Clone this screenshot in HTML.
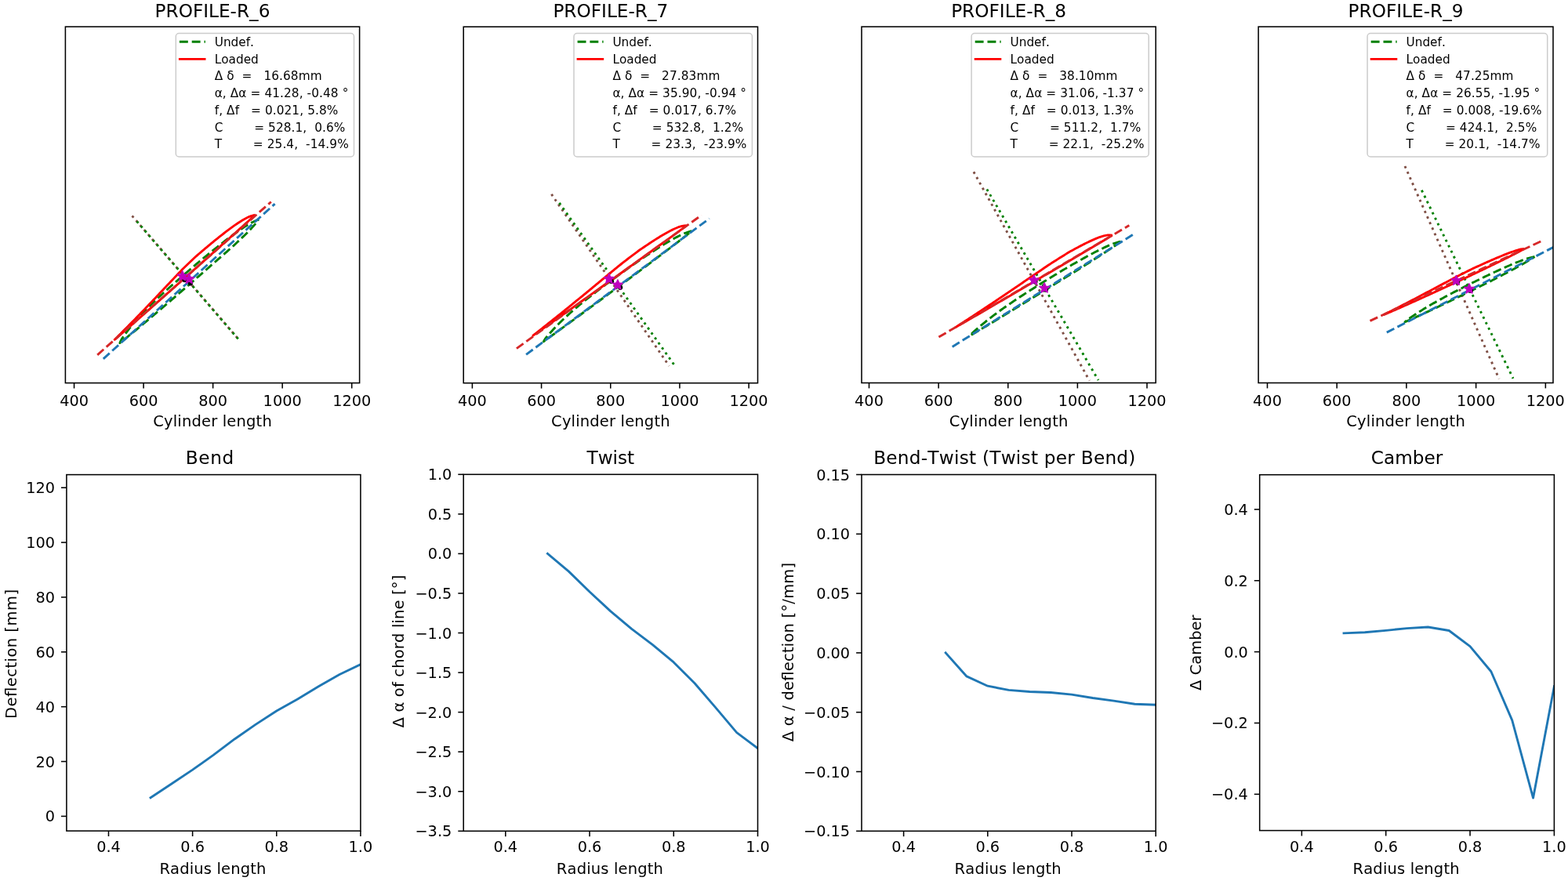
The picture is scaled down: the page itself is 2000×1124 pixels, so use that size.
<!DOCTYPE html>
<html><head><meta charset="utf-8"><title>Profiles</title>
<style>html,body{margin:0;padding:0;background:#fff;}svg{display:block;}text{font-kerning:none;}</style>
</head><body>
<svg width="2000" height="1124" viewBox="0 0 2000 1124" font-family="'DejaVu Sans', 'Liberation Sans', sans-serif" fill="#000">
<rect width="2000" height="1124" fill="#fff"/>
<g>
<clipPath id="c0"><rect x="83.4" y="34.1" width="375.2" height="454.5"/></clipPath>
<g clip-path="url(#c0)">
<line x1="168.5" y1="275.4" x2="303.5" y2="432" stroke="#7f4f45" stroke-width="2.9" stroke-linecap="butt" stroke-dasharray="2.9 4.9"/>
<line x1="174.57" y1="282.44" x2="304.6" y2="433.3" stroke="#008000" stroke-width="2.9" stroke-linecap="butt" stroke-dasharray="2.9 4.9"/>
<polyline points="329.8,279.9 327.44,281.01 325.05,282.1 322.68,283.2 320.37,284.37 318.15,285.64 315.96,286.94 313.8,288.28 311.66,289.64 309.54,291.02 307.44,292.43 305.37,293.87 303.31,295.32 301.25,296.78 299.21,298.25 297.18,299.73 295.15,301.21 293.13,302.71 291.12,304.22 289.12,305.73 287.13,307.26 285.14,308.79 283.16,310.34 281.19,311.89 279.23,313.45 277.27,315.01 275.3,316.57 273.35,318.13 271.39,319.7 269.44,321.27 267.49,322.85 265.54,324.42 263.6,326.01 261.66,327.59 259.73,329.19 257.8,330.78 255.87,332.39 253.95,333.99 252.04,335.61 250.13,337.23 248.23,338.86 246.33,340.49 244.43,342.12 242.54,343.76 240.65,345.4 238.76,347.04 236.87,348.68 234.98,350.32 233.09,351.97 231.2,353.61 229.32,355.26 227.43,356.9 225.55,358.55 223.66,360.2 221.78,361.84 219.89,363.49 218,365.13 216.12,366.78 214.27,368.47 212.42,370.16 210.57,371.84 208.72,373.53 206.87,375.22 205.03,376.91 203.18,378.6 201.34,380.3 199.51,382 197.68,383.71 195.86,385.44 194.06,387.18 192.28,388.93 190.5,390.7 188.73,392.48 186.97,394.27 185.22,396.06 183.47,397.86 181.73,399.67 180,401.49 178.29,403.34 176.6,405.2 174.92,407.08 173.26,408.98 171.61,410.89 169.98,412.82 168.36,414.76 166.77,416.74 165.2,418.75 163.66,420.78 162.14,422.84 160.64,424.91 160.28,425.4 159.93,425.9 159.58,426.39 159.22,426.89 158.87,427.38 158.52,427.88 158.17,428.38 157.82,428.87 157.47,429.37 157.12,429.87 156.77,430.37 156.42,430.87 156.08,431.37 155.74,431.89 155.41,432.4 155.08,432.93 154.77,433.46 154.46,434.01 154.17,434.58 153.91,435.17 153.65,435.77 153.41,436.39 153.16,437 152.9,437.6 153.36,437.23 153.82,436.85 154.28,436.48 154.75,436.11 155.21,435.74 155.67,435.37 156.13,434.99 156.6,434.62 157.06,434.25 157.52,433.88 157.98,433.51 158.45,433.14 158.91,432.77 159.37,432.4 159.84,432.03 160.3,431.66 160.76,431.28 161.23,430.91 161.69,430.54 162.15,430.17 162.62,429.8 163.08,429.43 163.54,429.06 164,428.69 165.96,427.12 167.91,425.54 169.85,423.96 171.79,422.38 173.72,420.78 175.65,419.18 177.57,417.58 179.49,415.97 181.41,414.36 183.33,412.75 185.25,411.14 187.17,409.53 189.08,407.92 190.99,406.3 192.91,404.69 194.82,403.07 196.73,401.45 198.64,399.83 200.54,398.21 202.45,396.59 204.36,394.96 206.26,393.34 208.16,391.71 210.07,390.08 211.97,388.45 213.87,386.82 215.77,385.19 217.66,383.56 219.56,381.93 221.46,380.29 223.35,378.65 225.24,377.02 227.14,375.38 229.03,373.74 230.92,372.1 232.81,370.46 234.7,368.82 236.59,367.17 238.48,365.53 240.37,363.89 242.25,362.24 244.14,360.6 246.03,358.95 247.91,357.31 249.8,355.66 251.68,354.01 253.57,352.37 255.45,350.72 257.34,349.07 259.22,347.42 261.1,345.78 262.99,344.13 264.87,342.48 266.76,340.83 268.64,339.18 270.52,337.53 272.4,335.88 274.29,334.23 276.17,332.59 278.05,330.94 279.94,329.29 281.82,327.64 283.7,325.99 285.59,324.34 287.47,322.69 289.36,321.04 291.24,319.4 293.12,317.75 295.01,316.1 296.89,314.46 298.72,312.74 300.54,311.02 302.36,309.3 304.18,307.58 306,305.87 307.82,304.14 309.63,302.42 311.44,300.68 313.24,298.93 315.02,297.17 316.78,295.39 318.53,293.58 320.25,291.75 321.94,289.89 323.62,288.01 325.27,286.1 326.85,284.11 328.33,282.01 329.8,279.9" fill="none" stroke="#008000" stroke-width="2.9" stroke-linecap="butt" stroke-linejoin="round" stroke-dasharray="10.7 4.6"/>
<line x1="131.8" y1="457.8" x2="350.6" y2="260.1" stroke="#1f77b4" stroke-width="2.9" stroke-linecap="butt" stroke-dasharray="10.7 4.6"/>
<polyline points="325.5,274.2 322.77,274.94 320.04,275.68 317.5,276.63 315.12,277.77 312.82,278.98 310.56,280.26 308.36,281.59 306.19,282.95 304.03,284.34 301.9,285.74 299.78,287.17 297.68,288.63 295.61,290.1 293.56,291.6 291.52,293.13 289.5,294.66 287.49,296.21 285.48,297.76 283.48,299.32 281.49,300.89 279.5,302.47 277.52,304.05 275.55,305.64 273.59,307.24 271.63,308.85 269.67,310.46 267.72,312.08 265.78,313.7 263.84,315.33 261.9,316.96 259.97,318.6 258.03,320.23 256.1,321.87 254.16,323.5 252.23,325.13 250.29,326.77 248.46,328.52 246.62,330.26 244.79,332.01 242.95,333.75 241.11,335.5 239.28,337.25 237.46,339 235.64,340.77 233.83,342.54 232.04,344.34 230.26,346.15 228.5,347.98 226.74,349.82 225,351.67 223.26,353.52 221.52,355.37 219.77,357.22 218.02,359.06 216.27,360.9 214.53,362.75 212.78,364.6 211.04,366.45 209.3,368.31 207.56,370.16 205.82,372.01 204.08,373.86 202.33,375.71 200.59,377.56 198.84,379.41 197.09,381.25 195.34,383.09 193.59,384.93 191.84,386.78 190.09,388.62 188.34,390.45 186.58,392.29 184.83,394.13 183.07,395.96 181.31,397.79 179.54,399.62 177.77,401.44 176,403.26 174.23,405.08 172.46,406.89 170.68,408.71 168.91,410.52 167.13,412.33 165.35,414.14 163.56,415.94 161.78,417.74 159.99,419.55 158.2,421.34 156.41,423.14 155.99,423.57 155.57,423.99 155.14,424.42 154.72,424.84 154.29,425.26 153.87,425.69 153.44,426.11 153.02,426.53 152.59,426.96 152.16,427.38 151.74,427.8 151.31,428.23 150.89,428.65 150.46,429.07 150.03,429.49 149.61,429.92 149.18,430.34 148.76,430.76 148.33,431.18 147.9,431.61 147.48,432.03 147.05,432.45 146.63,432.88 146.2,433.3 146.65,432.91 147.11,432.52 147.56,432.13 148.02,431.74 148.47,431.35 148.93,430.96 149.38,430.56 149.84,430.17 150.29,429.78 150.74,429.39 151.2,429 151.65,428.61 152.11,428.22 152.56,427.83 153.02,427.44 153.47,427.05 153.93,426.66 154.38,426.27 154.83,425.87 155.29,425.48 155.74,425.09 156.19,424.7 156.64,424.3 157.1,423.91 159.01,422.25 160.92,420.59 162.83,418.92 164.73,417.26 166.64,415.59 168.55,413.93 170.45,412.26 172.36,410.59 174.26,408.92 176.17,407.26 178.07,405.59 179.97,403.91 181.87,402.24 183.77,400.57 185.68,398.9 187.58,397.23 189.48,395.55 191.37,393.88 193.27,392.2 195.17,390.53 197.07,388.86 198.97,387.18 200.87,385.51 202.77,383.83 204.67,382.15 206.56,380.48 208.46,378.8 210.36,377.13 212.26,375.45 214.16,373.78 216.06,372.1 217.95,370.43 219.85,368.75 221.74,367.06 223.63,365.38 225.52,363.7 227.41,362.01 229.3,360.33 231.19,358.65 233.09,356.97 234.98,355.28 236.87,353.6 238.76,351.92 240.65,350.23 242.54,348.55 244.43,346.87 246.33,345.18 248.22,343.5 250.11,341.82 252,340.13 253.89,338.45 255.78,336.77 257.67,335.08 259.56,333.4 261.45,331.72 263.34,330.03 265.23,328.35 267.12,326.66 269.01,324.98 270.9,323.29 272.79,321.61 274.68,319.92 276.57,318.24 278.46,316.55 280.35,314.86 282.23,313.18 284.12,311.49 286.01,309.8 287.89,308.11 289.78,306.42 291.67,304.73 293.55,303.04 295.44,301.35 297.32,299.66 299.21,297.97 301.09,296.28 302.97,294.59 304.86,292.9 306.74,291.2 308.62,289.51 310.5,287.82 312.38,286.12 314.26,284.42 316.13,282.72 318.01,281.01 319.88,279.31 321.75,277.61 323.63,275.9 325.5,274.2" fill="none" stroke="#ff0000" stroke-width="2.9" stroke-linecap="butt" stroke-linejoin="round"/>
<line x1="124.2" y1="452.8" x2="345.8" y2="257.5" stroke="#d62728" stroke-width="2.9" stroke-linecap="butt" stroke-dasharray="10.7 4.6"/>
<circle cx="235.40" cy="357.10" r="3.1" fill="#000"/>
<circle cx="242.90" cy="361.40" r="3.1" fill="#000"/>
<polygon points="232.70,345.80 234.42,349.93 238.88,350.29 235.48,353.20 236.52,357.56 232.70,355.23 228.88,357.56 229.92,353.20 226.52,350.29 230.98,349.93" fill="#bf00bf" stroke="#bf00bf" stroke-width="1.6" stroke-linejoin="round"/>
<polygon points="241.30,349.50 243.02,353.63 247.48,353.99 244.08,356.90 245.12,361.26 241.30,358.93 237.48,361.26 238.52,356.90 235.12,353.99 239.58,353.63" fill="#bf00bf" stroke="#bf00bf" stroke-width="1.6" stroke-linejoin="round"/>
</g>
<rect x="224.3" y="42.5" width="227.2" height="157.5" rx="4" fill="#fff" fill-opacity="0.8" stroke="#cccccc" stroke-width="1.5"/>
<line x1="228.9" y1="53.2" x2="261.9" y2="53.2" stroke="#008000" stroke-width="2.9" stroke-linecap="butt" stroke-dasharray="10.9 4.9"/>
<line x1="227.9" y1="75.4" x2="262.5" y2="75.4" stroke="#ff0000" stroke-width="2.9" stroke-linecap="butt"/>
<text x="273.7" y="58.8" font-size="15.3" text-anchor="start" xml:space="preserve">Undef.</text>
<text x="273.7" y="80.55" font-size="15.3" text-anchor="start" xml:space="preserve">Loaded</text>
<text x="273.7" y="102.3" font-size="15.3" text-anchor="start" xml:space="preserve" letter-spacing="0.1">Δ δ  =   16.68mm</text>
<text x="273.7" y="124.05" font-size="15.3" text-anchor="start" xml:space="preserve" letter-spacing="0.1">α, Δα = 41.28, -0.48 °</text>
<text x="273.7" y="145.8" font-size="15.3" text-anchor="start" xml:space="preserve" letter-spacing="0.1">f, Δf   = 0.021, 5.8%</text>
<text x="273.7" y="167.55" font-size="15.3" text-anchor="start" xml:space="preserve" letter-spacing="0.1">C        = 528.1,  0.6%</text>
<text x="273.7" y="189.3" font-size="15.3" text-anchor="start" xml:space="preserve" letter-spacing="0.1">T        = 25.4,  -14.9%</text>
<rect x="83.4" y="34.1" width="375.2" height="454.5" fill="none" stroke="#000" stroke-width="1.55" stroke-linejoin="miter"/>
<line x1="94.55" y1="488.6" x2="94.55" y2="495.5" stroke="#000" stroke-width="1.55" stroke-linecap="butt"/>
<text x="94.55" y="517.9" font-size="19.3" text-anchor="middle">400</text>
<line x1="183.09" y1="488.6" x2="183.09" y2="495.5" stroke="#000" stroke-width="1.55" stroke-linecap="butt"/>
<text x="183.09" y="517.9" font-size="19.3" text-anchor="middle">600</text>
<line x1="271.63" y1="488.6" x2="271.63" y2="495.5" stroke="#000" stroke-width="1.55" stroke-linecap="butt"/>
<text x="271.63" y="517.9" font-size="19.3" text-anchor="middle">800</text>
<line x1="360.16" y1="488.6" x2="360.16" y2="495.5" stroke="#000" stroke-width="1.55" stroke-linecap="butt"/>
<text x="360.16" y="517.9" font-size="19.3" text-anchor="middle">1000</text>
<line x1="448.7" y1="488.6" x2="448.7" y2="495.5" stroke="#000" stroke-width="1.55" stroke-linecap="butt"/>
<text x="448.7" y="517.9" font-size="19.3" text-anchor="middle">1200</text>
<text x="271" y="21.9" font-size="23.2" text-anchor="middle">PROFILE-R_6</text>
<text x="271" y="544.3" font-size="19.5" text-anchor="middle" textLength="151.5" lengthAdjust="spacing">Cylinder length</text>
</g>
<g>
<clipPath id="c1"><rect x="591.2" y="34.2" width="375.3" height="454.5"/></clipPath>
<g clip-path="url(#c1)">
<line x1="703.4" y1="247.8" x2="853.5" y2="466.9" stroke="#7f4f45" stroke-width="2.9" stroke-linecap="butt" stroke-dasharray="2.9 4.9"/>
<line x1="713.4" y1="258.9" x2="860.2" y2="465.8" stroke="#008000" stroke-width="2.9" stroke-linecap="butt" stroke-dasharray="2.9 4.9"/>
<polyline points="882.4,294.5 879.92,295.34 877.41,296.15 874.94,297 872.53,297.95 870.21,299 867.91,300.08 865.64,301.21 863.39,302.36 861.17,303.55 858.96,304.76 856.78,306 854.6,307.25 852.44,308.52 850.28,309.79 848.13,311.08 845.99,312.38 843.86,313.69 841.74,315.01 839.62,316.34 837.52,317.69 835.42,319.05 833.33,320.41 831.24,321.78 829.15,323.15 827.07,324.52 824.99,325.9 822.91,327.28 820.84,328.67 818.77,330.06 816.7,331.46 814.64,332.86 812.58,334.27 810.53,335.69 808.49,337.12 806.45,338.55 804.41,339.99 802.38,341.44 800.36,342.89 798.34,344.34 796.31,345.8 794.3,347.26 792.28,348.73 790.26,350.19 788.25,351.66 786.23,353.13 784.22,354.6 782.21,356.06 780.19,357.53 778.18,359 776.17,360.47 774.15,361.93 772.14,363.4 770.15,364.91 768.17,366.42 766.19,367.93 764.21,369.44 762.23,370.96 760.25,372.47 758.27,373.98 756.29,375.5 754.32,377.02 752.35,378.54 750.38,380.07 748.42,381.61 746.47,383.17 744.53,384.74 742.6,386.32 740.68,387.91 738.76,389.5 736.85,391.11 734.95,392.72 733.05,394.34 731.15,395.96 729.25,397.59 727.37,399.24 725.51,400.9 723.65,402.58 721.81,404.28 719.97,405.99 718.15,407.71 716.34,409.45 714.53,411.19 712.74,412.96 710.97,414.75 709.22,416.58 707.49,418.42 705.77,420.28 704.06,422.16 702.36,424.05 701.96,424.5 701.56,424.95 701.16,425.4 700.76,425.85 700.36,426.3 699.97,426.75 699.57,427.2 699.17,427.65 698.77,428.11 698.37,428.56 697.98,429.02 697.59,429.48 697.2,429.94 696.81,430.42 696.44,430.89 696.06,431.38 695.7,431.87 695.34,432.39 695.01,432.92 694.68,433.47 694.36,434.03 694.04,434.59 693.72,435.15 693.4,435.7 693.88,435.36 694.36,435.01 694.84,434.67 695.31,434.32 695.79,433.98 696.27,433.63 696.75,433.29 697.23,432.94 697.71,432.6 698.19,432.25 698.67,431.91 699.15,431.57 699.63,431.22 700.1,430.88 700.58,430.53 701.06,430.19 701.54,429.85 702.02,429.5 702.5,429.16 702.98,428.81 703.46,428.47 703.94,428.12 704.42,427.78 704.89,427.43 706.92,425.98 708.94,424.52 710.96,423.06 712.97,421.59 714.99,420.12 717,418.66 719.01,417.19 721.02,415.72 723.03,414.25 725.05,412.77 727.06,411.3 729.07,409.83 731.08,408.36 733.09,406.88 735.1,405.41 737.1,403.94 739.11,402.46 741.12,400.98 743.13,399.51 745.13,398.03 747.14,396.55 749.15,395.08 751.15,393.6 753.16,392.12 755.16,390.64 757.17,389.16 759.17,387.68 761.18,386.2 763.18,384.72 765.18,383.23 767.19,381.75 769.19,380.27 771.19,378.79 773.19,377.3 775.2,375.82 777.2,374.34 779.2,372.85 781.2,371.37 783.2,369.89 785.2,368.4 787.21,366.92 789.21,365.43 791.21,363.95 793.21,362.46 795.21,360.98 797.21,359.49 799.21,358.01 801.21,356.52 803.21,355.04 805.22,353.55 807.22,352.07 809.22,350.58 811.22,349.1 813.22,347.61 815.22,346.13 817.22,344.64 819.22,343.16 821.22,341.67 823.22,340.19 825.23,338.71 827.22,337.21 829.21,335.71 831.2,334.21 833.18,332.7 835.17,331.2 837.16,329.7 839.15,328.2 841.13,326.69 843.12,325.19 845.11,323.68 847.09,322.18 849.08,320.67 851.06,319.16 853.04,317.65 855.02,316.14 857,314.63 858.98,313.11 860.95,311.59 862.92,310.06 864.89,308.54 866.86,307 868.82,305.47 870.78,303.93 872.74,302.38 874.69,300.83 876.63,299.27 878.55,297.68 880.48,296.09 882.4,294.5" fill="none" stroke="#008000" stroke-width="2.9" stroke-linecap="butt" stroke-linejoin="round" stroke-dasharray="10.7 4.6"/>
<line x1="671.1" y1="452.4" x2="904.7" y2="278.9" stroke="#1f77b4" stroke-width="2.9" stroke-linecap="butt" stroke-dasharray="10.7 4.6"/>
<polyline points="875.8,287.8 872.82,288.01 869.95,288.37 867.35,289.1 864.85,289.98 862.43,290.97 860.05,292.02 857.71,293.12 855.4,294.26 853.11,295.43 850.86,296.65 848.63,297.92 846.43,299.21 844.23,300.51 842.05,301.83 839.88,303.16 837.71,304.51 835.56,305.87 833.42,307.25 831.28,308.64 829.15,310.03 827.03,311.44 824.92,312.85 822.8,314.27 820.69,315.69 818.58,317.11 816.47,318.53 814.4,320 812.37,321.54 810.34,323.08 808.31,324.61 806.28,326.15 804.25,327.68 802.23,329.22 800.2,330.77 798.18,332.31 796.17,333.87 794.16,335.43 792.16,337.01 790.17,338.6 788.19,340.2 786.21,341.81 784.24,343.43 782.28,345.05 780.31,346.68 778.35,348.3 776.38,349.93 774.42,351.55 772.45,353.17 770.48,354.79 768.51,356.41 766.55,358.03 764.58,359.66 762.62,361.29 760.66,362.91 758.69,364.54 756.73,366.17 754.77,367.79 752.8,369.42 750.83,371.04 748.87,372.66 746.9,374.28 744.93,375.9 742.96,377.52 740.99,379.13 739.02,380.75 737.05,382.37 735.07,383.98 733.1,385.6 731.13,387.21 729.15,388.82 727.18,390.43 725.2,392.04 723.22,393.64 721.24,395.24 719.26,396.84 717.27,398.44 715.29,400.04 713.3,401.63 711.31,403.22 709.32,404.82 707.34,406.41 705.34,407.99 703.35,409.58 701.36,411.17 699.37,412.75 697.37,414.34 695.38,415.92 693.38,417.5 691.38,419.07 690.91,419.45 690.43,419.82 689.96,420.19 689.48,420.56 689.01,420.94 688.54,421.31 688.06,421.68 687.59,422.05 687.11,422.42 686.64,422.8 686.17,423.17 685.69,423.54 685.22,423.91 684.74,424.28 684.27,424.65 683.79,425.03 683.32,425.4 682.85,425.77 682.37,426.14 681.9,426.51 681.42,426.88 680.95,427.26 680.47,427.63 680,428 680.49,427.66 680.99,427.31 681.48,426.97 681.98,426.63 682.47,426.28 682.97,425.94 683.46,425.6 683.96,425.26 684.45,424.91 684.95,424.57 685.44,424.23 685.94,423.89 686.43,423.54 686.93,423.2 687.42,422.86 687.92,422.51 688.41,422.17 688.91,421.83 689.4,421.48 689.9,421.14 690.39,420.79 690.88,420.45 691.38,420.1 691.87,419.76 693.95,418.3 696.03,416.84 698.12,415.37 700.2,413.91 702.28,412.45 704.36,410.98 706.43,409.52 708.51,408.05 710.59,406.58 712.67,405.11 714.74,403.64 716.82,402.17 718.89,400.7 720.97,399.23 723.04,397.76 725.11,396.28 727.19,394.81 729.26,393.34 731.33,391.86 733.41,390.39 735.48,388.92 737.55,387.44 739.62,385.97 741.7,384.49 743.77,383.02 745.84,381.54 747.91,380.06 749.98,378.59 752.06,377.11 754.13,375.64 756.2,374.16 758.27,372.69 760.34,371.21 762.4,369.72 764.47,368.24 766.54,366.76 768.6,365.27 770.67,363.79 772.73,362.3 774.8,360.82 776.87,359.34 778.93,357.85 781,356.37 783.06,354.89 785.13,353.4 787.2,351.92 789.26,350.44 791.33,348.95 793.39,347.47 795.46,345.98 797.52,344.5 799.59,343.02 801.66,341.53 803.72,340.05 805.79,338.56 807.85,337.08 809.92,335.59 811.98,334.11 814.05,332.62 816.11,331.14 818.17,329.65 820.24,328.16 822.3,326.68 824.36,325.19 826.43,323.7 828.49,322.21 830.55,320.72 832.61,319.24 834.68,317.75 836.74,316.26 838.8,314.76 840.86,313.27 842.92,311.78 844.98,310.29 847.04,308.8 849.1,307.31 851.16,305.81 853.22,304.32 855.27,302.82 857.33,301.33 859.39,299.83 861.44,298.33 863.5,296.83 865.55,295.33 867.6,293.82 869.65,292.32 871.7,290.81 873.75,289.3 875.8,287.8" fill="none" stroke="#ff0000" stroke-width="2.9" stroke-linecap="butt" stroke-linejoin="round"/>
<line x1="658.9" y1="444.6" x2="894.7" y2="274.5" stroke="#d62728" stroke-width="2.9" stroke-linecap="butt" stroke-dasharray="10.7 4.6"/>
<circle cx="780.10" cy="359.00" r="3.1" fill="#000"/>
<circle cx="791.20" cy="366.80" r="3.1" fill="#000"/>
<polygon points="776.80,349.20 778.52,353.33 782.98,353.69 779.58,356.60 780.62,360.96 776.80,358.62 772.98,360.96 774.02,356.60 770.62,353.69 775.08,353.33" fill="#bf00bf" stroke="#bf00bf" stroke-width="1.6" stroke-linejoin="round"/>
<polygon points="787.90,357.00 789.62,361.13 794.08,361.49 790.68,364.40 791.72,368.76 787.90,366.43 784.08,368.76 785.12,364.40 781.72,361.49 786.18,361.13" fill="#bf00bf" stroke="#bf00bf" stroke-width="1.6" stroke-linejoin="round"/>
</g>
<rect x="732" y="42.5" width="227.4" height="157.5" rx="4" fill="#fff" fill-opacity="0.8" stroke="#cccccc" stroke-width="1.5"/>
<line x1="736.6" y1="53.2" x2="769.6" y2="53.2" stroke="#008000" stroke-width="2.9" stroke-linecap="butt" stroke-dasharray="10.9 4.9"/>
<line x1="735.6" y1="75.4" x2="770.2" y2="75.4" stroke="#ff0000" stroke-width="2.9" stroke-linecap="butt"/>
<text x="781.4" y="58.8" font-size="15.3" text-anchor="start" xml:space="preserve">Undef.</text>
<text x="781.4" y="80.55" font-size="15.3" text-anchor="start" xml:space="preserve">Loaded</text>
<text x="781.4" y="102.3" font-size="15.3" text-anchor="start" xml:space="preserve" letter-spacing="0.1">Δ δ  =   27.83mm</text>
<text x="781.4" y="124.05" font-size="15.3" text-anchor="start" xml:space="preserve" letter-spacing="0.1">α, Δα = 35.90, -0.94 °</text>
<text x="781.4" y="145.8" font-size="15.3" text-anchor="start" xml:space="preserve" letter-spacing="0.1">f, Δf   = 0.017, 6.7%</text>
<text x="781.4" y="167.55" font-size="15.3" text-anchor="start" xml:space="preserve" letter-spacing="0.1">C        = 532.8,  1.2%</text>
<text x="781.4" y="189.3" font-size="15.3" text-anchor="start" xml:space="preserve" letter-spacing="0.1">T        = 23.3,  -23.9%</text>
<rect x="591.2" y="34.2" width="375.3" height="454.5" fill="none" stroke="#000" stroke-width="1.55" stroke-linejoin="miter"/>
<line x1="602.4" y1="488.7" x2="602.4" y2="495.6" stroke="#000" stroke-width="1.55" stroke-linecap="butt"/>
<text x="602.4" y="517.9" font-size="19.3" text-anchor="middle">400</text>
<line x1="690.58" y1="488.7" x2="690.58" y2="495.6" stroke="#000" stroke-width="1.55" stroke-linecap="butt"/>
<text x="690.58" y="517.9" font-size="19.3" text-anchor="middle">600</text>
<line x1="778.75" y1="488.7" x2="778.75" y2="495.6" stroke="#000" stroke-width="1.55" stroke-linecap="butt"/>
<text x="778.75" y="517.9" font-size="19.3" text-anchor="middle">800</text>
<line x1="866.93" y1="488.7" x2="866.93" y2="495.6" stroke="#000" stroke-width="1.55" stroke-linecap="butt"/>
<text x="866.93" y="517.9" font-size="19.3" text-anchor="middle">1000</text>
<line x1="955.1" y1="488.7" x2="955.1" y2="495.6" stroke="#000" stroke-width="1.55" stroke-linecap="butt"/>
<text x="955.1" y="517.9" font-size="19.3" text-anchor="middle">1200</text>
<text x="778.85" y="21.9" font-size="23.2" text-anchor="middle">PROFILE-R_7</text>
<text x="778.85" y="544.3" font-size="19.5" text-anchor="middle" textLength="151.5" lengthAdjust="spacing">Cylinder length</text>
</g>
<g>
<clipPath id="c2"><rect x="1099" y="34.1" width="375.2" height="454.4"/></clipPath>
<g clip-path="url(#c2)">
<line x1="1241.9" y1="219.2" x2="1389.6" y2="485.6" stroke="#7f4f45" stroke-width="2.9" stroke-linecap="butt" stroke-dasharray="2.9 4.9"/>
<line x1="1258.8" y1="241.4" x2="1401" y2="485.1" stroke="#008000" stroke-width="2.9" stroke-linecap="butt" stroke-dasharray="2.9 4.9"/>
<polyline points="1429.6,308.1 1427.19,308.77 1424.78,309.42 1422.39,310.12 1420.07,310.92 1417.8,311.8 1415.55,312.72 1413.32,313.67 1411.11,314.65 1408.92,315.66 1406.75,316.7 1404.58,317.75 1402.42,318.81 1400.27,319.88 1398.12,320.97 1395.99,322.06 1393.86,323.17 1391.73,324.29 1389.62,325.43 1387.51,326.57 1385.41,327.72 1383.31,328.88 1381.21,330.03 1379.11,331.2 1377.02,332.36 1374.93,333.53 1372.84,334.71 1370.75,335.89 1368.67,337.08 1366.6,338.27 1364.52,339.47 1362.46,340.68 1360.39,341.89 1358.34,343.12 1356.28,344.35 1354.23,345.58 1352.18,346.82 1350.13,348.06 1348.09,349.3 1346.04,350.55 1344,351.79 1341.95,353.04 1339.91,354.29 1337.87,355.53 1335.82,356.78 1333.78,358.03 1331.74,359.27 1329.69,360.52 1327.66,361.79 1325.64,363.07 1323.62,364.36 1321.6,365.64 1319.58,366.93 1317.56,368.21 1315.54,369.49 1313.52,370.78 1311.5,372.07 1309.49,373.36 1307.47,374.65 1305.46,375.94 1303.45,377.24 1301.45,378.55 1299.45,379.87 1297.45,381.2 1295.47,382.54 1293.48,383.88 1291.5,385.23 1289.53,386.58 1287.55,387.94 1285.58,389.3 1283.61,390.67 1281.64,392.03 1279.68,393.41 1277.72,394.8 1275.78,396.2 1273.83,397.61 1271.9,399.03 1269.97,400.46 1268.05,401.9 1266.13,403.34 1264.22,404.8 1262.31,406.26 1260.41,407.75 1258.53,409.25 1256.65,410.77 1254.79,412.3 1252.93,413.84 1251.08,415.4 1249.24,416.96 1247.4,418.54 1246.96,418.91 1246.53,419.28 1246.09,419.66 1245.66,420.03 1245.22,420.41 1244.79,420.78 1244.36,421.15 1243.92,421.53 1243.49,421.91 1243.06,422.29 1242.63,422.67 1242.2,423.06 1241.78,423.45 1241.36,423.84 1240.94,424.24 1240.52,424.64 1240.12,425.06 1239.72,425.49 1239.33,425.94 1238.94,426.39 1238.56,426.84 1238.17,427.3 1237.79,427.75 1237.4,428.2 1237.89,427.91 1238.38,427.62 1238.86,427.33 1239.35,427.05 1239.84,426.76 1240.33,426.47 1240.82,426.18 1241.3,425.89 1241.79,425.6 1242.28,425.32 1242.77,425.03 1243.26,424.74 1243.74,424.45 1244.23,424.17 1244.72,423.88 1245.21,423.59 1245.7,423.3 1246.19,423.01 1246.67,422.73 1247.16,422.44 1247.65,422.15 1248.14,421.86 1248.63,421.57 1249.11,421.29 1251.18,420.07 1253.23,418.84 1255.29,417.62 1257.34,416.39 1259.39,415.15 1261.44,413.91 1263.49,412.68 1265.54,411.44 1267.59,410.2 1269.64,408.96 1271.68,407.72 1273.73,406.48 1275.78,405.23 1277.82,403.99 1279.87,402.75 1281.91,401.5 1283.96,400.26 1286,399.01 1288.04,397.76 1290.09,396.51 1292.13,395.26 1294.17,394.02 1296.21,392.76 1298.25,391.51 1300.29,390.26 1302.33,389.01 1304.37,387.76 1306.41,386.5 1308.45,385.25 1310.49,383.99 1312.53,382.74 1314.57,381.48 1316.6,380.23 1318.64,378.97 1320.68,377.71 1322.71,376.45 1324.75,375.2 1326.79,373.94 1328.82,372.68 1330.86,371.42 1332.9,370.16 1334.93,368.9 1336.97,367.65 1339,366.39 1341.04,365.13 1343.08,363.87 1345.11,362.61 1347.15,361.35 1349.18,360.09 1351.22,358.83 1353.25,357.57 1355.29,356.31 1357.32,355.05 1359.36,353.79 1361.39,352.53 1363.43,351.27 1365.47,350.01 1367.5,348.75 1369.54,347.5 1371.57,346.24 1373.6,344.97 1375.62,343.68 1377.64,342.39 1379.66,341.11 1381.68,339.83 1383.7,338.54 1385.72,337.26 1387.74,335.97 1389.76,334.69 1391.78,333.4 1393.8,332.11 1395.81,330.82 1397.83,329.53 1399.84,328.23 1401.85,326.94 1403.86,325.64 1405.87,324.33 1407.87,323.02 1409.87,321.7 1411.87,320.38 1413.86,319.06 1415.85,317.72 1417.84,316.39 1419.83,315.04 1421.81,313.69 1423.77,312.32 1425.71,310.91 1427.65,309.5 1429.6,308.1" fill="none" stroke="#008000" stroke-width="2.9" stroke-linecap="butt" stroke-linejoin="round" stroke-dasharray="10.7 4.6"/>
<line x1="1214.7" y1="442.4" x2="1448.3" y2="297.4" stroke="#1f77b4" stroke-width="2.9" stroke-linecap="butt" stroke-dasharray="10.7 4.6"/>
<polyline points="1418.9,300.1 1415.92,299.86 1413.09,299.89 1410.5,300.32 1408.01,300.92 1405.59,301.63 1403.2,302.41 1400.84,303.24 1398.52,304.13 1396.23,305.07 1393.97,306.06 1391.73,307.08 1389.5,308.13 1387.28,309.19 1385.07,310.27 1382.87,311.37 1380.68,312.48 1378.5,313.61 1376.33,314.76 1374.17,315.92 1372.01,317.08 1369.85,318.25 1367.7,319.42 1365.54,320.59 1363.41,321.8 1361.33,323.1 1359.24,324.39 1357.16,325.69 1355.08,326.98 1353,328.28 1350.91,329.58 1348.84,330.88 1346.76,332.18 1344.68,333.49 1342.62,334.81 1340.55,336.14 1338.5,337.48 1336.45,338.83 1334.41,340.2 1332.37,341.57 1330.34,342.95 1328.31,344.33 1326.28,345.72 1324.25,347.11 1322.22,348.49 1320.18,349.87 1318.15,351.25 1316.12,352.63 1314.08,354.01 1312.05,355.39 1310.02,356.78 1307.99,358.17 1305.97,359.55 1303.94,360.94 1301.91,362.33 1299.88,363.71 1297.85,365.1 1295.82,366.48 1293.79,367.86 1291.75,369.24 1289.72,370.62 1287.68,372 1285.65,373.38 1283.62,374.75 1281.58,376.13 1279.55,377.51 1277.51,378.88 1275.47,380.25 1273.44,381.63 1271.4,383 1269.36,384.37 1267.32,385.73 1265.28,387.1 1263.23,388.46 1261.19,389.82 1259.14,391.18 1257.1,392.53 1255.05,393.89 1253,395.24 1250.95,396.6 1248.9,397.95 1246.85,399.3 1244.8,400.64 1242.75,401.99 1240.69,403.34 1238.64,404.68 1236.58,406.02 1234.53,407.36 1232.47,408.7 1230.41,410.04 1229.92,410.35 1229.44,410.67 1228.95,410.98 1228.46,411.3 1227.97,411.62 1227.48,411.93 1227,412.25 1226.51,412.56 1226.02,412.88 1225.53,413.19 1225.04,413.51 1224.56,413.82 1224.07,414.14 1223.58,414.45 1223.09,414.76 1222.6,415.08 1222.12,415.39 1221.63,415.71 1221.14,416.02 1220.65,416.34 1220.16,416.65 1219.68,416.97 1219.19,417.28 1218.7,417.6 1219.2,417.31 1219.71,417.03 1220.21,416.74 1220.72,416.45 1221.22,416.16 1221.73,415.88 1222.23,415.59 1222.74,415.3 1223.24,415.02 1223.74,414.73 1224.25,414.44 1224.75,414.16 1225.26,413.87 1225.76,413.58 1226.27,413.29 1226.77,413.01 1227.28,412.72 1227.78,412.43 1228.28,412.14 1228.79,411.86 1229.29,411.57 1229.79,411.28 1230.3,410.99 1230.8,410.7 1232.93,409.48 1235.05,408.25 1237.17,407.03 1239.3,405.8 1241.42,404.58 1243.54,403.35 1245.67,402.12 1247.79,400.89 1249.91,399.66 1252.03,398.43 1254.15,397.2 1256.27,395.97 1258.39,394.74 1260.51,393.51 1262.63,392.27 1264.75,391.04 1266.86,389.8 1268.98,388.57 1271.1,387.33 1273.22,386.1 1275.34,384.86 1277.45,383.63 1279.57,382.39 1281.69,381.16 1283.81,379.92 1285.92,378.68 1288.04,377.45 1290.16,376.21 1292.27,374.97 1294.39,373.74 1296.51,372.5 1298.63,371.27 1300.74,370.03 1302.85,368.78 1304.97,367.54 1307.08,366.29 1309.19,365.05 1311.31,363.81 1313.42,362.56 1315.53,361.32 1317.64,360.08 1319.76,358.83 1321.87,357.59 1323.98,356.35 1326.1,355.1 1328.21,353.86 1330.32,352.61 1332.44,351.37 1334.55,350.13 1336.66,348.88 1338.77,347.64 1340.89,346.4 1343,345.15 1345.11,343.91 1347.22,342.66 1349.34,341.42 1351.45,340.17 1353.56,338.93 1355.67,337.68 1357.78,336.44 1359.9,335.19 1362.01,333.95 1364.12,332.7 1366.23,331.45 1368.34,330.2 1370.45,328.96 1372.56,327.71 1374.67,326.46 1376.78,325.21 1378.89,323.96 1381,322.71 1383.11,321.46 1385.22,320.21 1387.33,318.96 1389.44,317.71 1391.54,316.46 1393.65,315.21 1395.76,313.95 1397.87,312.7 1399.97,311.45 1402.08,310.19 1404.19,308.94 1406.29,307.68 1408.39,306.42 1410.49,305.15 1412.6,303.89 1414.7,302.63 1416.8,301.36 1418.9,300.1" fill="none" stroke="#ff0000" stroke-width="2.9" stroke-linecap="butt" stroke-linejoin="round"/>
<line x1="1197.4" y1="430.1" x2="1440.3" y2="287.6" stroke="#d62728" stroke-width="2.9" stroke-linecap="butt" stroke-dasharray="10.7 4.6"/>
<circle cx="1320.50" cy="359.50" r="3.1" fill="#000"/>
<circle cx="1334.00" cy="369.60" r="3.1" fill="#000"/>
<polygon points="1318.80,351.00 1320.52,355.13 1324.98,355.49 1321.58,358.40 1322.62,362.76 1318.80,360.43 1314.98,362.76 1316.02,358.40 1312.62,355.49 1317.08,355.13" fill="#bf00bf" stroke="#bf00bf" stroke-width="1.6" stroke-linejoin="round"/>
<polygon points="1332.20,361.10 1333.92,365.23 1338.38,365.59 1334.98,368.50 1336.02,372.86 1332.20,370.53 1328.38,372.86 1329.42,368.50 1326.02,365.59 1330.48,365.23" fill="#bf00bf" stroke="#bf00bf" stroke-width="1.6" stroke-linejoin="round"/>
</g>
<rect x="1239.1" y="42.5" width="226.1" height="157.5" rx="4" fill="#fff" fill-opacity="0.8" stroke="#cccccc" stroke-width="1.5"/>
<line x1="1243.7" y1="53.2" x2="1276.7" y2="53.2" stroke="#008000" stroke-width="2.9" stroke-linecap="butt" stroke-dasharray="10.9 4.9"/>
<line x1="1242.7" y1="75.4" x2="1277.3" y2="75.4" stroke="#ff0000" stroke-width="2.9" stroke-linecap="butt"/>
<text x="1288.5" y="58.8" font-size="15.3" text-anchor="start" xml:space="preserve">Undef.</text>
<text x="1288.5" y="80.55" font-size="15.3" text-anchor="start" xml:space="preserve">Loaded</text>
<text x="1288.5" y="102.3" font-size="15.3" text-anchor="start" xml:space="preserve" letter-spacing="0.1">Δ δ  =   38.10mm</text>
<text x="1288.5" y="124.05" font-size="15.3" text-anchor="start" xml:space="preserve" letter-spacing="0.1">α, Δα = 31.06, -1.37 °</text>
<text x="1288.5" y="145.8" font-size="15.3" text-anchor="start" xml:space="preserve" letter-spacing="0.1">f, Δf   = 0.013, 1.3%</text>
<text x="1288.5" y="167.55" font-size="15.3" text-anchor="start" xml:space="preserve" letter-spacing="0.1">C        = 511.2,  1.7%</text>
<text x="1288.5" y="189.3" font-size="15.3" text-anchor="start" xml:space="preserve" letter-spacing="0.1">T        = 22.1,  -25.2%</text>
<rect x="1099" y="34.1" width="375.2" height="454.4" fill="none" stroke="#000" stroke-width="1.55" stroke-linejoin="miter"/>
<line x1="1108.5" y1="488.5" x2="1108.5" y2="495.4" stroke="#000" stroke-width="1.55" stroke-linecap="butt"/>
<text x="1108.5" y="517.9" font-size="19.3" text-anchor="middle">400</text>
<line x1="1197.13" y1="488.5" x2="1197.13" y2="495.4" stroke="#000" stroke-width="1.55" stroke-linecap="butt"/>
<text x="1197.13" y="517.9" font-size="19.3" text-anchor="middle">600</text>
<line x1="1285.75" y1="488.5" x2="1285.75" y2="495.4" stroke="#000" stroke-width="1.55" stroke-linecap="butt"/>
<text x="1285.75" y="517.9" font-size="19.3" text-anchor="middle">800</text>
<line x1="1374.38" y1="488.5" x2="1374.38" y2="495.4" stroke="#000" stroke-width="1.55" stroke-linecap="butt"/>
<text x="1374.38" y="517.9" font-size="19.3" text-anchor="middle">1000</text>
<line x1="1463" y1="488.5" x2="1463" y2="495.4" stroke="#000" stroke-width="1.55" stroke-linecap="butt"/>
<text x="1463" y="517.9" font-size="19.3" text-anchor="middle">1200</text>
<text x="1286.6" y="21.9" font-size="23.2" text-anchor="middle">PROFILE-R_8</text>
<text x="1286.6" y="544.3" font-size="19.5" text-anchor="middle" textLength="151.5" lengthAdjust="spacing">Cylinder length</text>
</g>
<g>
<clipPath id="c3"><rect x="1605.1" y="34.1" width="375.9" height="454.4"/></clipPath>
<g clip-path="url(#c3)">
<line x1="1792" y1="212" x2="1912.1" y2="483.4" stroke="#7f4f45" stroke-width="2.9" stroke-linecap="butt" stroke-dasharray="2.9 4.9"/>
<line x1="1813.4" y1="242.7" x2="1930" y2="482.8" stroke="#008000" stroke-width="2.9" stroke-linecap="butt" stroke-dasharray="2.9 4.9"/>
<polyline points="1957.5,327.5 1955.53,327.93 1953.55,328.35 1951.59,328.81 1949.67,329.35 1947.77,329.94 1945.89,330.55 1944.03,331.2 1942.17,331.86 1940.33,332.55 1938.49,333.26 1936.66,333.98 1934.84,334.7 1933.01,335.44 1931.2,336.18 1929.39,336.93 1927.58,337.69 1925.77,338.46 1923.98,339.24 1922.18,340.03 1920.39,340.82 1918.6,341.62 1916.81,342.42 1915.02,343.22 1913.24,344.02 1911.45,344.83 1909.67,345.64 1907.89,346.45 1906.11,347.27 1904.33,348.1 1902.56,348.92 1900.79,349.76 1899.02,350.6 1897.26,351.45 1895.49,352.3 1893.73,353.15 1891.97,354.01 1890.21,354.87 1888.46,355.73 1886.7,356.59 1884.94,357.45 1883.19,358.32 1881.43,359.18 1879.68,360.04 1877.92,360.91 1876.16,361.77 1874.41,362.64 1872.65,363.5 1870.9,364.38 1869.16,365.27 1867.42,366.16 1865.68,367.05 1863.93,367.94 1862.19,368.84 1860.45,369.73 1858.71,370.62 1856.97,371.51 1855.23,372.41 1853.49,373.31 1851.75,374.21 1850.02,375.11 1848.28,376.02 1846.55,376.94 1844.83,377.86 1843.11,378.79 1841.38,379.73 1839.67,380.67 1837.95,381.61 1836.24,382.55 1834.52,383.5 1832.81,384.46 1831.1,385.41 1829.39,386.37 1827.69,387.34 1825.99,388.31 1824.29,389.3 1822.6,390.29 1820.92,391.29 1819.23,392.3 1817.55,393.31 1815.87,394.33 1814.2,395.36 1812.53,396.4 1810.87,397.45 1809.22,398.51 1807.57,399.59 1805.92,400.68 1804.28,401.77 1802.64,402.87 1801.01,403.98 1800.62,404.24 1800.24,404.5 1799.85,404.76 1799.47,405.03 1799.08,405.29 1798.69,405.55 1798.31,405.82 1797.92,406.08 1797.54,406.35 1797.15,406.61 1796.77,406.88 1796.39,407.15 1796.01,407.43 1795.63,407.71 1795.25,407.99 1794.88,408.28 1794.51,408.57 1794.14,408.88 1793.78,409.19 1793.43,409.51 1793.07,409.83 1792.71,410.16 1792.36,410.48 1792,410.8 1792.42,410.61 1792.85,410.43 1793.27,410.24 1793.7,410.05 1794.12,409.87 1794.55,409.68 1794.97,409.49 1795.4,409.31 1795.82,409.12 1796.25,408.94 1796.67,408.75 1797.1,408.57 1797.52,408.38 1797.95,408.2 1798.38,408.01 1798.8,407.83 1799.23,407.64 1799.65,407.46 1800.08,407.27 1800.5,407.08 1800.93,406.9 1801.35,406.71 1801.78,406.53 1802.2,406.34 1803.99,405.55 1805.78,404.75 1807.57,403.94 1809.34,403.12 1811.12,402.3 1812.9,401.48 1814.68,400.66 1816.45,399.83 1818.22,399 1820,398.17 1821.77,397.34 1823.54,396.51 1825.31,395.68 1827.08,394.84 1828.85,394 1830.62,393.16 1832.39,392.32 1834.16,391.48 1835.92,390.64 1837.69,389.79 1839.45,388.95 1841.22,388.1 1842.98,387.25 1844.74,386.4 1846.5,385.55 1848.27,384.69 1850.03,383.84 1851.79,382.98 1853.55,382.13 1855.31,381.27 1857.07,380.41 1858.82,379.55 1860.58,378.69 1862.34,377.83 1864.1,376.97 1865.86,376.11 1867.61,375.25 1869.37,374.39 1871.13,373.53 1872.88,372.66 1874.64,371.8 1876.4,370.94 1878.15,370.08 1879.91,369.21 1881.66,368.35 1883.42,367.48 1885.18,366.62 1886.93,365.76 1888.69,364.89 1890.45,364.03 1892.2,363.17 1893.96,362.31 1895.72,361.44 1897.47,360.58 1899.23,359.72 1900.98,358.85 1902.72,357.95 1904.45,357.04 1906.19,356.14 1907.92,355.23 1909.66,354.33 1911.4,353.43 1913.13,352.52 1914.87,351.62 1916.61,350.71 1918.34,349.81 1920.07,348.9 1921.81,347.99 1923.54,347.08 1925.27,346.17 1927,345.25 1928.73,344.33 1930.45,343.41 1932.18,342.48 1933.9,341.54 1935.61,340.6 1937.33,339.65 1939.04,338.7 1940.74,337.74 1942.45,336.77 1944.15,335.8 1945.85,334.81 1947.54,333.83 1949.23,332.83 1950.91,331.81 1952.56,330.75 1954.21,329.67 1955.85,328.58 1957.5,327.5" fill="none" stroke="#008000" stroke-width="2.9" stroke-linecap="butt" stroke-linejoin="round" stroke-dasharray="10.7 4.6"/>
<line x1="1768.8" y1="424.1" x2="1981.5" y2="315.4" stroke="#1f77b4" stroke-width="2.9" stroke-linecap="butt" stroke-dasharray="10.7 4.6"/>
<polyline points="1944.1,317.4 1941.94,317.7 1939.78,318.02 1937.7,318.49 1935.66,319.05 1933.64,319.67 1931.65,320.32 1929.66,321 1927.69,321.7 1925.72,322.42 1923.76,323.15 1921.8,323.89 1919.86,324.65 1917.92,325.43 1915.98,326.22 1914.06,327.02 1912.13,327.82 1910.21,328.63 1908.28,329.45 1906.37,330.27 1904.45,331.1 1902.54,331.93 1900.63,332.77 1898.72,333.61 1896.81,334.45 1894.9,335.3 1893,336.15 1891.1,337.01 1889.2,337.87 1887.3,338.72 1885.39,339.58 1883.49,340.44 1881.59,341.3 1879.69,342.16 1877.82,343.07 1875.95,344 1874.08,344.92 1872.2,345.84 1870.33,346.76 1868.46,347.69 1866.6,348.61 1864.73,349.54 1862.86,350.48 1861,351.42 1859.15,352.38 1857.29,353.34 1855.44,354.31 1853.6,355.28 1851.75,356.26 1849.91,357.24 1848.07,358.22 1846.22,359.2 1844.38,360.18 1842.53,361.15 1840.69,362.13 1838.84,363.11 1837,364.09 1835.16,365.07 1833.31,366.05 1831.47,367.03 1829.63,368.01 1827.78,368.99 1825.94,369.97 1824.09,370.95 1822.25,371.93 1820.4,372.9 1818.56,373.88 1816.71,374.85 1814.86,375.83 1813.02,376.8 1811.17,377.77 1809.32,378.75 1807.47,379.72 1805.63,380.69 1803.78,381.66 1801.93,382.62 1800.08,383.59 1798.22,384.55 1796.37,385.51 1794.52,386.47 1792.67,387.44 1790.81,388.39 1788.96,389.35 1787.1,390.31 1785.25,391.26 1783.39,392.22 1781.54,393.17 1779.68,394.13 1777.82,395.08 1775.97,396.03 1775.53,396.25 1775.09,396.48 1774.65,396.7 1774.21,396.93 1773.77,397.15 1773.33,397.37 1772.89,397.6 1772.45,397.82 1772,398.05 1771.56,398.27 1771.12,398.49 1770.68,398.72 1770.24,398.94 1769.8,399.16 1769.36,399.39 1768.92,399.61 1768.48,399.83 1768.04,400.06 1767.6,400.28 1767.16,400.5 1766.72,400.73 1766.28,400.95 1765.84,401.18 1765.4,401.4 1765.85,401.21 1766.31,401.01 1766.76,400.82 1767.22,400.63 1767.67,400.43 1768.13,400.24 1768.58,400.05 1769.04,399.85 1769.49,399.66 1769.95,399.47 1770.4,399.28 1770.86,399.08 1771.31,398.89 1771.77,398.7 1772.22,398.51 1772.68,398.31 1773.13,398.12 1773.59,397.93 1774.04,397.73 1774.5,397.54 1774.95,397.35 1775.4,397.15 1775.86,396.96 1776.31,396.77 1778.23,395.94 1780.15,395.11 1782.06,394.28 1783.96,393.43 1785.87,392.59 1787.78,391.75 1789.69,390.9 1791.59,390.05 1793.5,389.2 1795.4,388.35 1797.31,387.5 1799.21,386.65 1801.11,385.79 1803.01,384.94 1804.92,384.08 1806.82,383.22 1808.72,382.36 1810.62,381.5 1812.52,380.64 1814.42,379.78 1816.31,378.91 1818.21,378.05 1820.11,377.18 1822.01,376.31 1823.9,375.45 1825.8,374.58 1827.69,373.71 1829.59,372.84 1831.48,371.97 1833.38,371.09 1835.27,370.22 1837.17,369.35 1839.06,368.48 1840.96,367.6 1842.85,366.73 1844.74,365.86 1846.64,364.98 1848.53,364.11 1850.42,363.23 1852.32,362.36 1854.21,361.48 1856.1,360.61 1858,359.73 1859.89,358.86 1861.78,357.98 1863.68,357.11 1865.57,356.23 1867.46,355.36 1869.36,354.49 1871.25,353.61 1873.14,352.74 1875.03,351.84 1876.91,350.94 1878.79,350.03 1880.67,349.13 1882.55,348.23 1884.43,347.33 1886.31,346.43 1888.19,345.53 1890.07,344.62 1891.95,343.72 1893.83,342.82 1895.71,341.92 1897.59,341.01 1899.47,340.11 1901.35,339.2 1903.22,338.29 1905.1,337.38 1906.98,336.47 1908.85,335.56 1910.73,334.65 1912.6,333.73 1914.47,332.81 1916.34,331.88 1918.21,330.95 1920.08,330.02 1921.94,329.09 1923.8,328.15 1925.66,327.2 1927.52,326.26 1929.38,325.31 1931.24,324.35 1933.09,323.4 1934.94,322.43 1936.78,321.44 1938.61,320.44 1940.44,319.42 1942.27,318.41 1944.1,317.4" fill="none" stroke="#ff0000" stroke-width="2.9" stroke-linecap="butt" stroke-linejoin="round"/>
<line x1="1747.5" y1="409.4" x2="1966.3" y2="307.5" stroke="#d62728" stroke-width="2.9" stroke-linecap="butt" stroke-dasharray="10.7 4.6"/>
<circle cx="1859.20" cy="360.00" r="3.1" fill="#000"/>
<circle cx="1876.00" cy="370.80" r="3.1" fill="#000"/>
<polygon points="1857.40,351.50 1859.12,355.63 1863.58,355.99 1860.18,358.90 1861.22,363.26 1857.40,360.93 1853.58,363.26 1854.62,358.90 1851.22,355.99 1855.68,355.63" fill="#bf00bf" stroke="#bf00bf" stroke-width="1.6" stroke-linejoin="round"/>
<polygon points="1874.00,362.10 1875.72,366.23 1880.18,366.59 1876.78,369.50 1877.82,373.86 1874.00,371.53 1870.18,373.86 1871.22,369.50 1867.82,366.59 1872.28,366.23" fill="#bf00bf" stroke="#bf00bf" stroke-width="1.6" stroke-linejoin="round"/>
</g>
<rect x="1744.1" y="42.5" width="229.6" height="157.5" rx="4" fill="#fff" fill-opacity="0.8" stroke="#cccccc" stroke-width="1.5"/>
<line x1="1748.7" y1="53.2" x2="1781.7" y2="53.2" stroke="#008000" stroke-width="2.9" stroke-linecap="butt" stroke-dasharray="10.9 4.9"/>
<line x1="1747.7" y1="75.4" x2="1782.3" y2="75.4" stroke="#ff0000" stroke-width="2.9" stroke-linecap="butt"/>
<text x="1793.5" y="58.8" font-size="15.3" text-anchor="start" xml:space="preserve">Undef.</text>
<text x="1793.5" y="80.55" font-size="15.3" text-anchor="start" xml:space="preserve">Loaded</text>
<text x="1793.5" y="102.3" font-size="15.3" text-anchor="start" xml:space="preserve" letter-spacing="0.1">Δ δ  =   47.25mm</text>
<text x="1793.5" y="124.05" font-size="15.3" text-anchor="start" xml:space="preserve" letter-spacing="0.1">α, Δα = 26.55, -1.95 °</text>
<text x="1793.5" y="145.8" font-size="15.3" text-anchor="start" xml:space="preserve" letter-spacing="0.1">f, Δf   = 0.008, -19.6%</text>
<text x="1793.5" y="167.55" font-size="15.3" text-anchor="start" xml:space="preserve" letter-spacing="0.1">C        = 424.1,  2.5%</text>
<text x="1793.5" y="189.3" font-size="15.3" text-anchor="start" xml:space="preserve" letter-spacing="0.1">T        = 20.1,  -14.7%</text>
<rect x="1605.1" y="34.1" width="375.9" height="454.4" fill="none" stroke="#000" stroke-width="1.55" stroke-linejoin="miter"/>
<line x1="1616.5" y1="488.5" x2="1616.5" y2="495.4" stroke="#000" stroke-width="1.55" stroke-linecap="butt"/>
<text x="1616.5" y="517.9" font-size="19.3" text-anchor="middle">400</text>
<line x1="1705.21" y1="488.5" x2="1705.21" y2="495.4" stroke="#000" stroke-width="1.55" stroke-linecap="butt"/>
<text x="1705.21" y="517.9" font-size="19.3" text-anchor="middle">600</text>
<line x1="1793.92" y1="488.5" x2="1793.92" y2="495.4" stroke="#000" stroke-width="1.55" stroke-linecap="butt"/>
<text x="1793.92" y="517.9" font-size="19.3" text-anchor="middle">800</text>
<line x1="1882.64" y1="488.5" x2="1882.64" y2="495.4" stroke="#000" stroke-width="1.55" stroke-linecap="butt"/>
<text x="1882.64" y="517.9" font-size="19.3" text-anchor="middle">1000</text>
<line x1="1971.35" y1="488.5" x2="1971.35" y2="495.4" stroke="#000" stroke-width="1.55" stroke-linecap="butt"/>
<text x="1971.35" y="517.9" font-size="19.3" text-anchor="middle">1200</text>
<text x="1793.05" y="21.9" font-size="23.2" text-anchor="middle">PROFILE-R_9</text>
<text x="1793.05" y="544.3" font-size="19.5" text-anchor="middle" textLength="151.5" lengthAdjust="spacing">Cylinder length</text>
</g>
<clipPath id="b0"><rect x="84.9" y="605.6" width="375" height="454.5"/></clipPath>
<polyline points="192.04,1017.76 218.83,1000.05 245.61,982.13 272.4,963.12 299.19,942.96 325.97,924.38 352.76,907.02 379.54,891.89 406.33,875.82 433.11,860.45 459.9,847.59" fill="none" stroke="#1f77b4" stroke-width="2.9" stroke-linecap="square" stroke-linejoin="round" clip-path="url(#b0)"/>
<rect x="84.9" y="605.6" width="375" height="454.5" fill="none" stroke="#000" stroke-width="1.55" stroke-linejoin="miter"/>
<line x1="138.47" y1="1060.1" x2="138.47" y2="1067" stroke="#000" stroke-width="1.55" stroke-linecap="butt"/>
<text x="138.47" y="1087.1" font-size="19.3" text-anchor="middle">0.4</text>
<line x1="245.61" y1="1060.1" x2="245.61" y2="1067" stroke="#000" stroke-width="1.55" stroke-linecap="butt"/>
<text x="245.61" y="1087.1" font-size="19.3" text-anchor="middle">0.6</text>
<line x1="352.76" y1="1060.1" x2="352.76" y2="1067" stroke="#000" stroke-width="1.55" stroke-linecap="butt"/>
<text x="352.76" y="1087.1" font-size="19.3" text-anchor="middle">0.8</text>
<line x1="459.9" y1="1060.1" x2="459.9" y2="1067" stroke="#000" stroke-width="1.55" stroke-linecap="butt"/>
<text x="459.9" y="1087.1" font-size="19.3" text-anchor="middle">1.0</text>
<line x1="78" y1="1041.41" x2="84.9" y2="1041.41" stroke="#000" stroke-width="1.55" stroke-linecap="butt"/>
<text x="70" y="1048.41" font-size="19.3" text-anchor="end">0</text>
<line x1="78" y1="971.54" x2="84.9" y2="971.54" stroke="#000" stroke-width="1.55" stroke-linecap="butt"/>
<text x="70" y="978.54" font-size="19.3" text-anchor="end">20</text>
<line x1="78" y1="901.67" x2="84.9" y2="901.67" stroke="#000" stroke-width="1.55" stroke-linecap="butt"/>
<text x="70" y="908.67" font-size="19.3" text-anchor="end">40</text>
<line x1="78" y1="831.8" x2="84.9" y2="831.8" stroke="#000" stroke-width="1.55" stroke-linecap="butt"/>
<text x="70" y="838.8" font-size="19.3" text-anchor="end">60</text>
<line x1="78" y1="761.93" x2="84.9" y2="761.93" stroke="#000" stroke-width="1.55" stroke-linecap="butt"/>
<text x="70" y="768.93" font-size="19.3" text-anchor="end">80</text>
<line x1="78" y1="692.06" x2="84.9" y2="692.06" stroke="#000" stroke-width="1.55" stroke-linecap="butt"/>
<text x="70" y="699.06" font-size="19.3" text-anchor="end">100</text>
<line x1="78" y1="622.19" x2="84.9" y2="622.19" stroke="#000" stroke-width="1.55" stroke-linecap="butt"/>
<text x="70" y="629.19" font-size="19.3" text-anchor="end">120</text>
<text x="267.5" y="591.8" font-size="23.2" text-anchor="middle" textLength="61.5" lengthAdjust="spacing">Bend</text>
<text x="271.4" y="1115.1" font-size="19.5" text-anchor="middle" textLength="136" lengthAdjust="spacing">Radius length</text>
<clipPath id="b1"><rect x="591.2" y="605.3" width="375.3" height="455"/></clipPath>
<polyline points="698.43,706.41 725.24,728.86 752.04,755.05 778.85,779.92 805.66,802.37 832.46,822.69 859.27,844.93 886.08,871.73 912.89,902.87 939.69,934.62 966.5,954.64" fill="none" stroke="#1f77b4" stroke-width="2.9" stroke-linecap="square" stroke-linejoin="round" clip-path="url(#b1)"/>
<rect x="591.2" y="605.3" width="375.3" height="455" fill="none" stroke="#000" stroke-width="1.55" stroke-linejoin="miter"/>
<line x1="644.81" y1="1060.3" x2="644.81" y2="1067.2" stroke="#000" stroke-width="1.55" stroke-linecap="butt"/>
<text x="644.81" y="1087.1" font-size="19.3" text-anchor="middle">0.4</text>
<line x1="752.04" y1="1060.3" x2="752.04" y2="1067.2" stroke="#000" stroke-width="1.55" stroke-linecap="butt"/>
<text x="752.04" y="1087.1" font-size="19.3" text-anchor="middle">0.6</text>
<line x1="859.27" y1="1060.3" x2="859.27" y2="1067.2" stroke="#000" stroke-width="1.55" stroke-linecap="butt"/>
<text x="859.27" y="1087.1" font-size="19.3" text-anchor="middle">0.8</text>
<line x1="966.5" y1="1060.3" x2="966.5" y2="1067.2" stroke="#000" stroke-width="1.55" stroke-linecap="butt"/>
<text x="966.5" y="1087.1" font-size="19.3" text-anchor="middle">1.0</text>
<line x1="584.3" y1="1060.3" x2="591.2" y2="1060.3" stroke="#000" stroke-width="1.55" stroke-linecap="butt"/>
<text x="576.3" y="1067.3" font-size="19.3" text-anchor="end">−3.5</text>
<line x1="584.3" y1="1009.74" x2="591.2" y2="1009.74" stroke="#000" stroke-width="1.55" stroke-linecap="butt"/>
<text x="576.3" y="1016.74" font-size="19.3" text-anchor="end">−3.0</text>
<line x1="584.3" y1="959.19" x2="591.2" y2="959.19" stroke="#000" stroke-width="1.55" stroke-linecap="butt"/>
<text x="576.3" y="966.19" font-size="19.3" text-anchor="end">−2.5</text>
<line x1="584.3" y1="908.63" x2="591.2" y2="908.63" stroke="#000" stroke-width="1.55" stroke-linecap="butt"/>
<text x="576.3" y="915.63" font-size="19.3" text-anchor="end">−2.0</text>
<line x1="584.3" y1="858.08" x2="591.2" y2="858.08" stroke="#000" stroke-width="1.55" stroke-linecap="butt"/>
<text x="576.3" y="865.08" font-size="19.3" text-anchor="end">−1.5</text>
<line x1="584.3" y1="807.52" x2="591.2" y2="807.52" stroke="#000" stroke-width="1.55" stroke-linecap="butt"/>
<text x="576.3" y="814.52" font-size="19.3" text-anchor="end">−1.0</text>
<line x1="584.3" y1="756.97" x2="591.2" y2="756.97" stroke="#000" stroke-width="1.55" stroke-linecap="butt"/>
<text x="576.3" y="763.97" font-size="19.3" text-anchor="end">−0.5</text>
<line x1="584.3" y1="706.41" x2="591.2" y2="706.41" stroke="#000" stroke-width="1.55" stroke-linecap="butt"/>
<text x="576.3" y="713.41" font-size="19.3" text-anchor="end">0.0</text>
<line x1="584.3" y1="655.86" x2="591.2" y2="655.86" stroke="#000" stroke-width="1.55" stroke-linecap="butt"/>
<text x="576.3" y="662.86" font-size="19.3" text-anchor="end">0.5</text>
<line x1="584.3" y1="605.3" x2="591.2" y2="605.3" stroke="#000" stroke-width="1.55" stroke-linecap="butt"/>
<text x="576.3" y="612.3" font-size="19.3" text-anchor="end">1.0</text>
<text x="778.85" y="591.8" font-size="23.2" text-anchor="middle">Twist</text>
<text x="777.85" y="1115.1" font-size="19.5" text-anchor="middle" textLength="136" lengthAdjust="spacing">Radius length</text>
<clipPath id="b2"><rect x="1099" y="605.5" width="375.2" height="454.8"/></clipPath>
<polyline points="1206.2,832.9 1233,862.92 1259.8,875.2 1286.6,880.35 1313.4,882.47 1340.2,883.53 1367,886.11 1393.8,890.51 1420.6,894.15 1447.4,898.24 1474.2,899.15" fill="none" stroke="#1f77b4" stroke-width="2.9" stroke-linecap="square" stroke-linejoin="round" clip-path="url(#b2)"/>
<rect x="1099" y="605.5" width="375.2" height="454.8" fill="none" stroke="#000" stroke-width="1.55" stroke-linejoin="miter"/>
<line x1="1152.6" y1="1060.3" x2="1152.6" y2="1067.2" stroke="#000" stroke-width="1.55" stroke-linecap="butt"/>
<text x="1152.6" y="1087.1" font-size="19.3" text-anchor="middle">0.4</text>
<line x1="1259.8" y1="1060.3" x2="1259.8" y2="1067.2" stroke="#000" stroke-width="1.55" stroke-linecap="butt"/>
<text x="1259.8" y="1087.1" font-size="19.3" text-anchor="middle">0.6</text>
<line x1="1367" y1="1060.3" x2="1367" y2="1067.2" stroke="#000" stroke-width="1.55" stroke-linecap="butt"/>
<text x="1367" y="1087.1" font-size="19.3" text-anchor="middle">0.8</text>
<line x1="1474.2" y1="1060.3" x2="1474.2" y2="1067.2" stroke="#000" stroke-width="1.55" stroke-linecap="butt"/>
<text x="1474.2" y="1087.1" font-size="19.3" text-anchor="middle">1.0</text>
<line x1="1092.1" y1="1060.3" x2="1099" y2="1060.3" stroke="#000" stroke-width="1.55" stroke-linecap="butt"/>
<text x="1084.1" y="1067.3" font-size="19.3" text-anchor="end">−0.15</text>
<line x1="1092.1" y1="984.5" x2="1099" y2="984.5" stroke="#000" stroke-width="1.55" stroke-linecap="butt"/>
<text x="1084.1" y="991.5" font-size="19.3" text-anchor="end">−0.10</text>
<line x1="1092.1" y1="908.7" x2="1099" y2="908.7" stroke="#000" stroke-width="1.55" stroke-linecap="butt"/>
<text x="1084.1" y="915.7" font-size="19.3" text-anchor="end">−0.05</text>
<line x1="1092.1" y1="832.9" x2="1099" y2="832.9" stroke="#000" stroke-width="1.55" stroke-linecap="butt"/>
<text x="1084.1" y="839.9" font-size="19.3" text-anchor="end">0.00</text>
<line x1="1092.1" y1="757.1" x2="1099" y2="757.1" stroke="#000" stroke-width="1.55" stroke-linecap="butt"/>
<text x="1084.1" y="764.1" font-size="19.3" text-anchor="end">0.05</text>
<line x1="1092.1" y1="681.3" x2="1099" y2="681.3" stroke="#000" stroke-width="1.55" stroke-linecap="butt"/>
<text x="1084.1" y="688.3" font-size="19.3" text-anchor="end">0.10</text>
<line x1="1092.1" y1="605.5" x2="1099" y2="605.5" stroke="#000" stroke-width="1.55" stroke-linecap="butt"/>
<text x="1084.1" y="612.5" font-size="19.3" text-anchor="end">0.15</text>
<text x="1281.25" y="591.8" font-size="23.2" text-anchor="middle" textLength="334.2" lengthAdjust="spacing">Bend-Twist (Twist per Bend)</text>
<text x="1285.6" y="1115.1" font-size="19.5" text-anchor="middle" textLength="136" lengthAdjust="spacing">Radius length</text>
<clipPath id="b3"><rect x="1606.7" y="605.7" width="375.7" height="453.9"/></clipPath>
<polyline points="1714.04,807.85 1740.88,806.76 1767.71,804.35 1794.55,801.62 1821.39,800.03 1848.22,804.53 1875.06,824.56 1901.89,856.77 1928.73,918.82 1955.56,1018.08 1982.4,875.67" fill="none" stroke="#1f77b4" stroke-width="2.9" stroke-linecap="square" stroke-linejoin="round" clip-path="url(#b3)"/>
<rect x="1606.7" y="605.7" width="375.7" height="453.9" fill="none" stroke="#000" stroke-width="1.55" stroke-linejoin="miter"/>
<line x1="1660.37" y1="1059.6" x2="1660.37" y2="1066.5" stroke="#000" stroke-width="1.55" stroke-linecap="butt"/>
<text x="1660.37" y="1087.1" font-size="19.3" text-anchor="middle">0.4</text>
<line x1="1767.71" y1="1059.6" x2="1767.71" y2="1066.5" stroke="#000" stroke-width="1.55" stroke-linecap="butt"/>
<text x="1767.71" y="1087.1" font-size="19.3" text-anchor="middle">0.6</text>
<line x1="1875.06" y1="1059.6" x2="1875.06" y2="1066.5" stroke="#000" stroke-width="1.55" stroke-linecap="butt"/>
<text x="1875.06" y="1087.1" font-size="19.3" text-anchor="middle">0.8</text>
<line x1="1982.4" y1="1059.6" x2="1982.4" y2="1066.5" stroke="#000" stroke-width="1.55" stroke-linecap="butt"/>
<text x="1982.4" y="1087.1" font-size="19.3" text-anchor="middle">1.0</text>
<line x1="1599.8" y1="1013.31" x2="1606.7" y2="1013.31" stroke="#000" stroke-width="1.55" stroke-linecap="butt"/>
<text x="1591.8" y="1020.31" font-size="19.3" text-anchor="end">−0.4</text>
<line x1="1599.8" y1="922.46" x2="1606.7" y2="922.46" stroke="#000" stroke-width="1.55" stroke-linecap="butt"/>
<text x="1591.8" y="929.46" font-size="19.3" text-anchor="end">−0.2</text>
<line x1="1599.8" y1="831.61" x2="1606.7" y2="831.61" stroke="#000" stroke-width="1.55" stroke-linecap="butt"/>
<text x="1591.8" y="838.61" font-size="19.3" text-anchor="end">0.0</text>
<line x1="1599.8" y1="740.75" x2="1606.7" y2="740.75" stroke="#000" stroke-width="1.55" stroke-linecap="butt"/>
<text x="1591.8" y="747.75" font-size="19.3" text-anchor="end">0.2</text>
<line x1="1599.8" y1="649.9" x2="1606.7" y2="649.9" stroke="#000" stroke-width="1.55" stroke-linecap="butt"/>
<text x="1591.8" y="656.9" font-size="19.3" text-anchor="end">0.4</text>
<text x="1794.55" y="591.8" font-size="23.2" text-anchor="middle">Camber</text>
<text x="1793.55" y="1115.1" font-size="19.5" text-anchor="middle" textLength="136" lengthAdjust="spacing">Radius length</text>
<text x="20.8" y="834.5" font-size="19.5" text-anchor="middle" transform="rotate(-90 20.8 834.5)" textLength="165" lengthAdjust="spacing">Deflection [mm]</text>
<text x="515.3" y="831" font-size="19.5" text-anchor="middle" transform="rotate(-90 515.3 831)" textLength="194.8" lengthAdjust="spacing">Δ α of chord line [°]</text>
<text x="1012" y="832" font-size="19.5" text-anchor="middle" transform="rotate(-90 1012 832)" textLength="228.4" lengthAdjust="spacing">Δ α / deflection [°/mm]</text>
<text x="1532.2" y="832.65" font-size="19.5" text-anchor="middle" transform="rotate(-90 1532.2 832.65)">Δ Camber</text>
</svg>
</body></html>
